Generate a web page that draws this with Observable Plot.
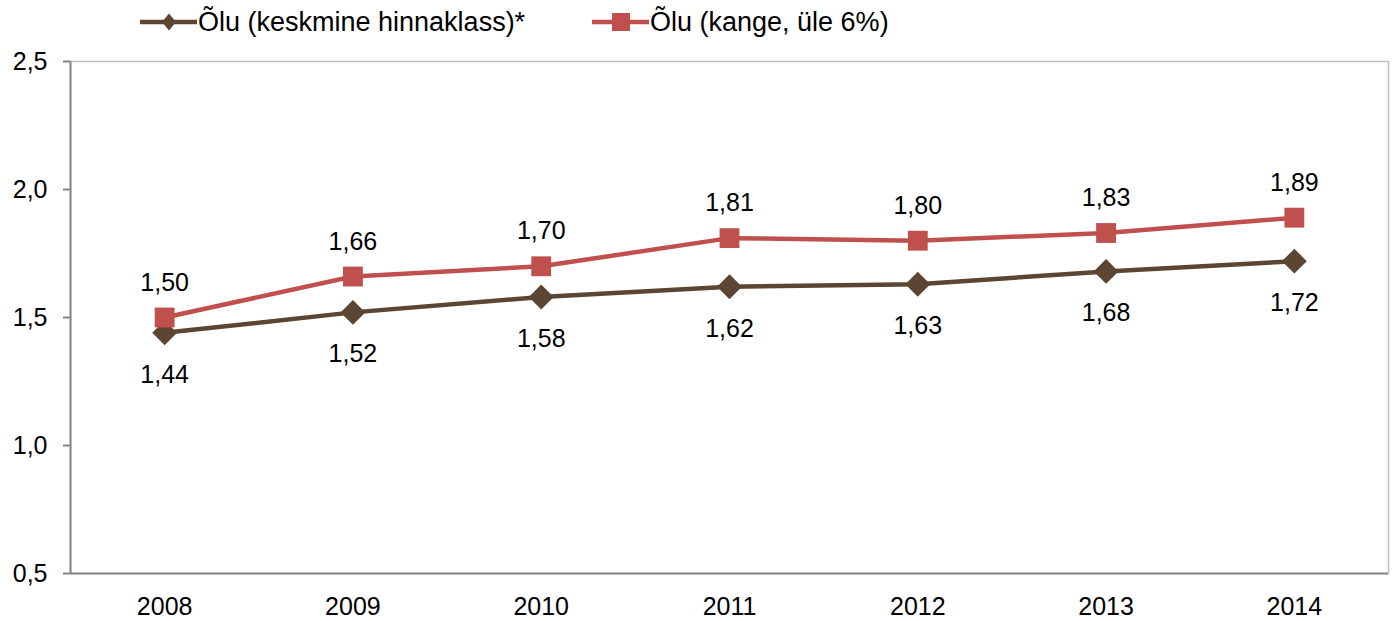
<!DOCTYPE html>
<html>
<head>
<meta charset="utf-8">
<script src="https://cdn.jsdelivr.net/npm/d3@7"></script>
<script src="https://cdn.jsdelivr.net/npm/@observablehq/plot@0.6"></script>
<style>
  body { margin: 0; background: #fff; font-family: "Liberation Sans", Arial, sans-serif; }
  #wrap { position: relative; width: 1396px; height: 621px; }
  .leg { position: absolute; top: 6px; display: flex; align-items: center; font-size: 27px; color: #000; white-space: nowrap; }
  .leg svg { display: block; margin-right: 1px; }
</style>
</head>
<body>
<div id="wrap"></div>
<script>
const years = [2008, 2009, 2010, 2011, 2012, 2013, 2014];
const seriesNames = ["Õlu (keskmine hinnaklass)*", "Õlu (kange, üle 6%)"];
const keskmine = [1.44, 1.52, 1.58, 1.62, 1.63, 1.68, 1.72];
const kange = [1.50, 1.66, 1.70, 1.81, 1.80, 1.83, 1.89];
const yTicks = [0.5, 1.0, 1.5, 2.0, 2.5];
const colors = ["#5C4532", "#C0504D"];

const data = [];
years.forEach((yr, i) => {
  data.push({year: yr, value: keskmine[i], series: seriesNames[0]});
  data.push({year: yr, value: kange[i], series: seriesNames[1]});
});
const dataK = data.filter(d => d.series === seriesNames[0]);
const dataR = data.filter(d => d.series === seriesNames[1]);

const xDomain = [years[0] - 0.5, years[years.length - 1] + 0.5];
const yDomain = [yTicks[0], yTicks[yTicks.length - 1]];
const comma = (f) => (v) => d3.format(f)(v).replace(".", ",");

const chart = Plot.plot({
  width: 1396,
  height: 621,
  marginTop: 61,
  marginBottom: 48,
  marginLeft: 70,
  marginRight: 8,
  style: {fontSize: "25px", fontFamily: "'Liberation Sans', Arial, sans-serif", color: "#000", background: "#fff"},
  x: {domain: xDomain, ticks: years, tickFormat: d => String(d), tickSize: 0, tickPadding: 24, label: null},
  y: {domain: yDomain, ticks: yTicks, tickFormat: comma(".1f"), tickSize: 7, tickPadding: 16, label: null},
  marks: [
    Plot.frame({stroke: "#bfbfbf", strokeWidth: 1.5}),
    Plot.ruleY([yDomain[0]], {stroke: "#868686", strokeWidth: 2}),
    Plot.ruleX([xDomain[0]], {stroke: "#868686", strokeWidth: 2}),
    Plot.line(dataK, {x: "year", y: "value", stroke: colors[0], strokeWidth: 4.5}),
    Plot.line(dataR, {x: "year", y: "value", stroke: colors[1], strokeWidth: 4.5}),
    Plot.dot(dataK, {x: "year", y: "value", symbol: "diamond2", r: 11.2, fill: colors[0], stroke: "none"}),
    Plot.dot(dataR, {x: "year", y: "value", symbol: "square", r: 11.2, fill: colors[1], stroke: "none"}),
    Plot.text(dataK, {x: "year", y: "value", text: d => comma(".2f")(d.value), dy: 42, fill: "#000", fontSize: 25}),
    Plot.text(dataR, {x: "year", y: "value", text: d => comma(".2f")(d.value), dy: -35, fill: "#000", fontSize: 25})
  ]
});
d3.select(chart).selectAll("[aria-label='y-axis tick']").attr("stroke", "#868686").attr("stroke-width", 2);

const wrap = document.getElementById("wrap");
wrap.appendChild(chart);

function legendItem(left, name, color, kind) {
  const div = document.createElement("div");
  div.className = "leg";
  div.style.left = left + "px";
  const sw = d3.create("svg").attr("width", 57).attr("height", 32);
  sw.append("line").attr("x1", 0).attr("x2", 57).attr("y1", 16).attr("y2", 16).attr("stroke", color).attr("stroke-width", 4.5);
  if (kind === "diamond") {
    sw.append("path").attr("d", "M29,7.5L36,16L29,24.5L22,16Z").attr("fill", color);
  } else {
    sw.append("rect").attr("x", 20).attr("y", 7).attr("width", 18).attr("height", 18).attr("fill", color);
  }
  div.appendChild(sw.node());
  const span = document.createElement("span");
  span.textContent = name;
  div.appendChild(span);
  wrap.appendChild(div);
}
legendItem(140, seriesNames[0], colors[0], "diamond");
legendItem(592, seriesNames[1], colors[1], "square");
</script>
</body>
</html>
